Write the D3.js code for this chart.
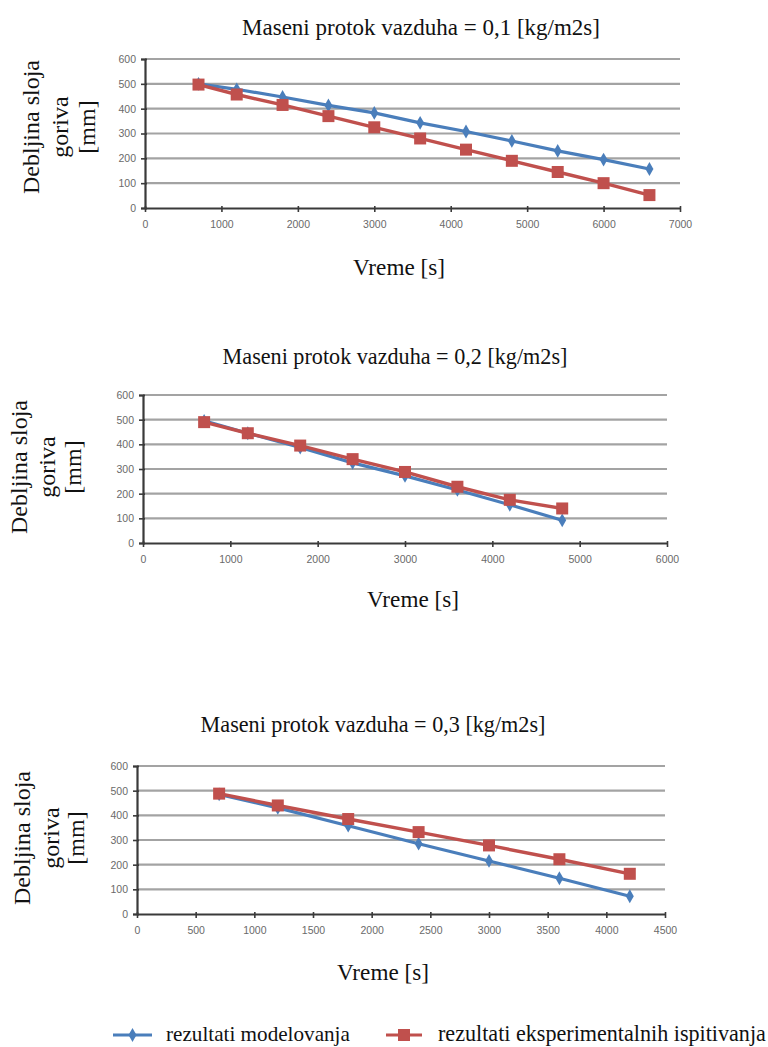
<!DOCTYPE html>
<html><head><meta charset="utf-8">
<script src="https://cdn.jsdelivr.net/npm/d3@7"></script>
<style>
body{margin:0;background:#fff;}
svg{display:block;}
</style></head>
<body>
<svg id="c" width="768" height="1047"></svg>
<script>
// ---- data ----
const titles = ["Maseni protok vazduha = 0,1 [kg/m2s]", "Maseni protok vazduha = 0,2 [kg/m2s]", "Maseni protok vazduha = 0,3 [kg/m2s]"];
const seriesNames = ["rezultati modelovanja", "rezultati eksperimentalnih ispitivanja"];
const xLabel = "Vreme [s]";
const yLabelLines = ["Debljina sloja", "goriva", "[mm]"];

const time1 = [700, 1200, 1800, 2400, 3000, 3600, 4200, 4800, 5400, 6000, 6600];
const model1 = [500, 478, 447, 413, 383, 343, 308, 270, 230, 195, 157];
const exper1 = [497, 457, 415, 370, 325, 280, 235, 190, 145, 100, 52];
const xTicks1 = [0, 1000, 2000, 3000, 4000, 5000, 6000, 7000];

const time2 = [700, 1200, 1800, 2400, 3000, 3600, 4200, 4800];
const model2 = [495, 445, 387, 325, 272, 215, 155, 92];
const exper2 = [490, 445, 395, 340, 288, 228, 175, 140];
const xTicks2 = [0, 1000, 2000, 3000, 4000, 5000, 6000];

const time3 = [700, 1200, 1800, 2400, 3000, 3600, 4200];
const model3 = [485, 430, 358, 285, 215, 145, 72];
const exper3 = [488, 440, 385, 332, 278, 222, 163];
const xTicks3 = [0, 500, 1000, 1500, 2000, 2500, 3000, 3500, 4000, 4500];

const yTicks = [0, 100, 200, 300, 400, 500, 600];

// ---- layout ----
const BLUE = "#4a7ebb", RED = "#c0504d";
const SERIF = '"Liberation Serif"';
const SANS = '"Liberation Sans"';
const svg = d3.select("#c");

// size a serif text so that its width matches a target width
function fitText(sel, target) {
  sel.style("font-family", SERIF).style("font-size", "22px");
  const w = sel.node().getComputedTextLength();
  if (w > 0) sel.style("font-size", (22 * target / w).toFixed(2) + "px");
  return sel;
}

const charts = [
  {title: titles[0], t: time1, m: model1, e: exper1, xt: xTicks1,
   x0: 145, x1: 680, yTop: 59, yBot: 208, titleX: 421, titleY: 35, titleW: 358,
   xlX: 399, xlY: 275, ylX: [32, 61, 88], ylY: 127},
  {title: titles[1], t: time2, m: model2, e: exper2, xt: xTicks2,
   x0: 143, x1: 667, yTop: 395, yBot: 543, titleX: 395, titleY: 364, titleW: 345,
   xlX: 413, xlY: 607, ylX: [20, 48, 74], ylY: 467},
  {title: titles[2], t: time3, m: model3, e: exper3, xt: xTicks3,
   x0: 137, x1: 665, yTop: 766, yBot: 914, titleX: 373, titleY: 732, titleW: 345,
   xlX: 383, xlY: 980, ylX: [23, 52, 77], ylY: 838}
];

charts.forEach(c => {
  const g = svg.append("g");
  const xDom = [c.xt[0], c.xt[c.xt.length - 1]];
  const x = d3.scaleLinear().domain(xDom).range([c.x0, c.x1]);
  const y = d3.scaleLinear().domain([0, 600]).range([c.yBot, c.yTop]);

  // gridlines
  g.selectAll("line.grid").data(yTicks.filter(v => v > 0)).join("line")
    .attr("x1", c.x0).attr("x2", c.x1)
    .attr("y1", d => y(d)).attr("y2", d => y(d))
    .attr("stroke", "#a3a3a3").attr("stroke-width", 2.2);

  // y axis
  const ya = g.append("g").attr("transform", `translate(${c.x0},0)`)
    .call(d3.axisLeft(y).tickValues(yTicks).tickSize(4).tickPadding(5).tickFormat(d3.format("d")));
  ya.select(".domain").attr("stroke", "#3a3a3a").attr("stroke-width", 2.2);
  ya.selectAll(".tick line").attr("stroke", "#3a3a3a").attr("stroke-width", 1.6).attr("x2", -4).attr("x1", 2);
  ya.selectAll("text").style("font-family", SANS).style("font-size", "10.5px").attr("fill", "#6a6a6a");

  // x axis
  const xa = g.append("g").attr("transform", `translate(0,${c.yBot})`)
    .call(d3.axisBottom(x).tickValues(c.xt).tickSize(4).tickPadding(9).tickSizeOuter(0).tickFormat(d3.format("d")));
  xa.select(".domain").attr("stroke", "#3a3a3a").attr("stroke-width", 2.2);
  xa.selectAll(".tick line").attr("stroke", "#3a3a3a").attr("stroke-width", 1.6).attr("y1", -2);
  xa.selectAll("text").style("font-family", SANS).style("font-size", "10.5px").attr("fill", "#6a6a6a");

  const line = d3.line().x(d => x(d[0])).y(d => y(d[1]));
  const mData = c.t.map((t, i) => [t, c.m[i]]);
  const eData = c.t.map((t, i) => [t, c.e[i]]);

  // blue series
  g.append("path").datum(mData).attr("d", line).attr("fill", "none")
    .attr("stroke", BLUE).attr("stroke-width", 3.2);
  g.selectAll("path.dm").data(mData).join("path")
    .attr("d", d3.symbol(d3.symbolDiamond, 55))
    .attr("transform", d => `translate(${x(d[0])},${y(d[1])})`)
    .attr("fill", BLUE);

  // red series
  g.append("path").datum(eData).attr("d", line).attr("fill", "none")
    .attr("stroke", RED).attr("stroke-width", 3.4);
  g.selectAll("rect.er").data(eData).join("rect")
    .attr("x", d => x(d[0]) - 6).attr("y", d => y(d[1]) - 6)
    .attr("width", 12).attr("height", 12).attr("fill", RED);

  // title
  fitText(g.append("text").attr("x", c.titleX).attr("y", c.titleY).attr("text-anchor", "middle")
    .attr("fill", "#111").text(c.title), c.titleW);
  // x label
  fitText(g.append("text").attr("x", c.xlX).attr("y", c.xlY).attr("text-anchor", "middle")
    .attr("fill", "#111").text(xLabel), 92);
  // y label lines
  yLabelLines.forEach((s, i) => {
    g.append("text").attr("transform", `translate(${c.ylX[i] + 7},${c.ylY}) rotate(-90)`)
      .attr("text-anchor", "middle")
      .style("font-family", SERIF).style("font-size", "24px").attr("fill", "#111")
      .text(s);
  });
});

// legend
const lg = svg.append("g");
const legendItems = [
  {name: seriesNames[0], color: BLUE, lx: 113, lw: 39, tx: 166, tw: 184, sym: "d"},
  {name: seriesNames[1], color: RED, lx: 386, lw: 36, tx: 438, tw: 328, sym: "s"}
];
const ly = 1035;
legendItems.forEach(it => {
  lg.append("line").attr("x1", it.lx).attr("x2", it.lx + it.lw).attr("y1", ly).attr("y2", ly)
    .attr("stroke", it.color).attr("stroke-width", 3.2);
  if (it.sym === "d") {
    lg.append("path").attr("d", d3.symbol(d3.symbolDiamond, 55))
      .attr("transform", `translate(${it.lx + it.lw / 2},${ly})`).attr("fill", it.color);
  } else {
    lg.append("rect").attr("x", it.lx + it.lw / 2 - 6).attr("y", ly - 6).attr("width", 12).attr("height", 12).attr("fill", it.color);
  }
  fitText(lg.append("text").attr("x", it.tx).attr("y", ly + 6).attr("fill", "#111").text(it.name), it.tw);
});
</script>
</body></html>
